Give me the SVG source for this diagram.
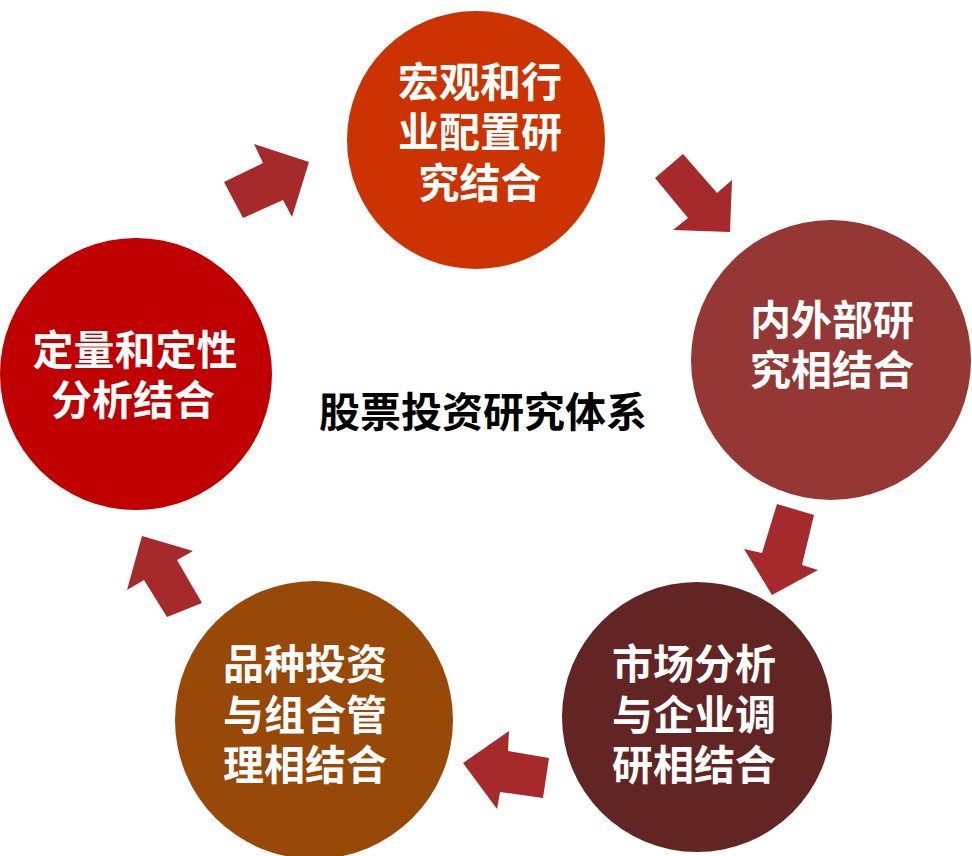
<svg xmlns="http://www.w3.org/2000/svg" width="972" height="856" viewBox="0 0 972 856">
<style>
.lbl{font-family:"Noto Sans CJK SC","Noto Sans",sans-serif;font-weight:700;font-size:41px;fill:#ffffff;text-anchor:middle}
.title{font-family:"Noto Sans CJK SC","Noto Sans",sans-serif;font-weight:700;font-size:41px;fill:#000000;text-anchor:middle}
.arr{fill:#A6292B}
</style>
<rect width="972" height="856" fill="#ffffff"/>
<g id="connectors">
<polygon class="arr" points="224,182 263,163 254,144 309,162 292,217 283,200 243,218"/>
<polygon class="arr" points="655,178 683,154 717,193 732,180 730,232 673,230 688,218"/>
<polygon class="arr" points="777,504 814,515 802,565 818,570 772,595 744,549 762,553"/>
<polygon class="arr" points="509,731 508,751 549,758 543,798 500,792 497,809 463,763"/>
<polygon class="arr" points="142,536 193,551 177,560 202,603 167,617 144,580 127,590"/>
</g>
<g id="node-top">
<circle cx="476" cy="140" r="129" fill="#CC3300"/>
<text class="lbl"><tspan x="480" y="97">宏观和行</tspan><tspan x="480" y="147">业配置研</tspan><tspan x="480" y="198">究结合</tspan></text>
</g>
<g id="node-right">
<circle cx="831" cy="360" r="140" fill="#953735"/>
<text class="lbl"><tspan x="832" y="335">内外部研</tspan><tspan x="832" y="385">究相结合</tspan></text>
</g>
<g id="node-bottom-right">
<circle cx="697" cy="717" r="135" fill="#632523"/>
<text class="lbl"><tspan x="694" y="679">市场分析</tspan><tspan x="694" y="730">与企业调</tspan><tspan x="694" y="780">研相结合</tspan></text>
</g>
<g id="node-bottom-left">
<circle cx="314" cy="720" r="139" fill="#984807"/>
<text class="lbl"><tspan x="305" y="679">品种投资</tspan><tspan x="305" y="730">与组合管</tspan><tspan x="305" y="780">理相结合</tspan></text>
</g>
<g id="node-left">
<circle cx="136" cy="374" r="136" fill="#C00000"/>
<text class="lbl"><tspan x="135" y="365">定量和定性</tspan><tspan x="133" y="415">分析结合</tspan></text>
</g>
<g id="title">
<text class="title" x="483" y="427">股票投资研究体系</text>
</g>
</svg>
